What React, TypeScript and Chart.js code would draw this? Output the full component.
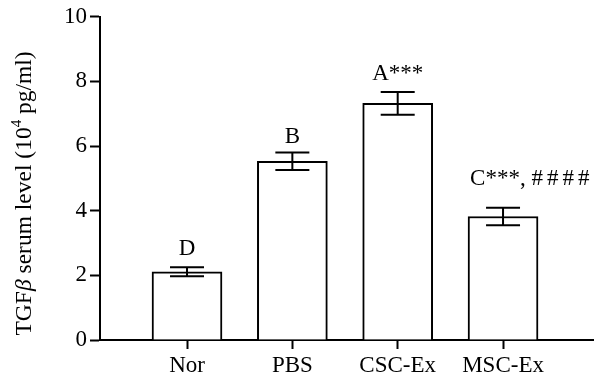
import React, { useEffect, useRef } from "react";
import { Chart, registerables } from "chart.js";

Chart.register(...registerables);

const categories = ["Nor", "PBS", "CSC-Ex", "MSC-Ex"];
const means = [2.11, 5.53, 7.32, 3.82];
const errors = [0.14, 0.27, 0.35, 0.27];
const annotations = ["D", "B", "A***", "C***, ####"];
const yTicks = [0, 2, 4, 6, 8, 10];

const FONT = '"Liberation Serif", "DejaVu Serif", serif';
const BAR_W = 70;

const overlayPlugin = {
  id: "overlay",
  afterDatasetsDraw(chart: any) {
    const ctx = chart.ctx;
    const xs = chart.scales.x;
    const ys = chart.scales.y;
    ctx.save();
    ctx.strokeStyle = "#000";
    ctx.lineWidth = 2;
    ctx.fillStyle = "#000";
    const gaps = [12, 10, 12, 23];
    means.forEach((m, i) => {
      const x = xs.getPixelForValue(i);
      const yHi = ys.getPixelForValue(m + errors[i]);
      const yLo = ys.getPixelForValue(m - errors[i]);
      const half = 17;
      ctx.beginPath();
      ctx.moveTo(x, yHi);
      ctx.lineTo(x, yLo);
      ctx.moveTo(x - half, yHi);
      ctx.lineTo(x + half, yHi);
      ctx.moveTo(x - half, yLo);
      ctx.lineTo(x + half, yLo);
      ctx.stroke();

      ctx.font = `23px ${FONT}`;
      ctx.textBaseline = "alphabetic";
      ctx.textAlign = "left";
      const text = annotations[i];
      const hashIdx = text.indexOf("#");
      const head = hashIdx >= 0 ? text.slice(0, hashIdx) : text;
      const tail = hashIdx >= 0 ? text.slice(hashIdx) : "";
      (ctx as any).letterSpacing = "0px";
      const wHead = ctx.measureText(head).width;
      (ctx as any).letterSpacing = "4px";
      const wTail = tail ? ctx.measureText(tail).width : 0;
      const total = wHead + wTail;
      const startX = total > BAR_W + 20 ? x - BAR_W / 2 + 2 : x - total / 2;
      const ty = yHi - gaps[i];
      (ctx as any).letterSpacing = "0px";
      ctx.fillText(head, startX, ty);
      if (tail) {
        (ctx as any).letterSpacing = "4px";
        ctx.fillText(tail, startX + wHead, ty);
        (ctx as any).letterSpacing = "0px";
      }
    });
    ctx.restore();
  },
  afterDraw(chart: any) {
    const ctx = chart.ctx;
    const ys = chart.scales.y;
    const cy = (ys.top + ys.bottom) / 2 + 15;
    const segs: [string, string, number][] = [
      ["TGF", `23.5px ${FONT}`, 0],
      ["\u03B2", `italic 23.5px ${FONT}`, 0],
      [" serum level (10", `23.5px ${FONT}`, 0],
      ["4", `15px ${FONT}`, -8],
      [" pg/ml)", `23.5px ${FONT}`, 0],
    ];
    ctx.save();
    let total = 0;
    for (const [t, f] of segs) {
      ctx.font = f;
      total += ctx.measureText(t).width;
    }
    ctx.translate(25, cy);
    ctx.rotate(-Math.PI / 2);
    ctx.fillStyle = "#000";
    ctx.textBaseline = "middle";
    ctx.textAlign = "left";
    let x = -total / 2;
    for (const [t, f, dy] of segs) {
      ctx.font = f;
      ctx.fillText(t, x, dy);
      x += ctx.measureText(t).width;
    }
    ctx.restore();
  },
};

export default function App() {
  const ref = useRef<HTMLCanvasElement | null>(null);
  useEffect(() => {
    if (!ref.current) return;
    const chart = new Chart(ref.current, {
      type: "bar",
      data: {
        datasets: [
          {
            data: means.map((v, i) => ({ x: i, y: v })),
            backgroundColor: "#fff",
            borderColor: "#000",
            borderWidth: 2,
            barThickness: BAR_W,
          },
        ],
      },
      options: {
        animation: false,
        responsive: false,
        layout: { padding: { top: 13, right: 7, left: 0, bottom: 0 } },
        plugins: { legend: { display: false }, tooltip: { enabled: false } },
        scales: {
          x: {
            type: "linear",
            offset: false,
            min: -0.826,
            max: 3.854,
            afterBuildTicks: (s: any) => {
              s.ticks = categories.map((_, i) => ({ value: i }));
            },
            afterFit: (s: any) => {
              s.height = 48;
            },
            ticks: {
              callback: (v: any) => categories[v] ?? "",
              color: "#000",
              font: { family: FONT, size: 23 },
              padding: 3,
              maxRotation: 0,
              autoSkip: false,
            },
            grid: {
              offset: false,
              drawOnChartArea: false,
              drawTicks: true,
              tickLength: 9,
              tickWidth: 2,
              tickColor: "#000",
            },
            border: { display: true, color: "#000", width: 2 },
          },
          y: {
            min: 0,
            max: 10,
            afterBuildTicks: (s: any) => {
              s.ticks = yTicks.map((v) => ({ value: v }));
            },
            afterFit: (s: any) => {
              s.width = 100;
            },
            ticks: {
              color: "#000",
              font: { family: FONT, size: 23 },
              padding: 3,
            },
            grid: {
              drawOnChartArea: false,
              drawTicks: true,
              tickLength: 10,
              tickWidth: 2,
              tickColor: "#000",
            },
            border: { display: true, color: "#000", width: 2 },
          },
        },
      },
      plugins: [overlayPlugin],
    } as any);
    return () => chart.destroy();
  }, []);
  return (
    <div style={{ position: "fixed", left: 0, top: 0, width: 600, height: 388, background: "#fff" }}>
      <canvas ref={ref} width={600} height={388} style={{ width: 600, height: 388 }} />
    </div>
  );
}
